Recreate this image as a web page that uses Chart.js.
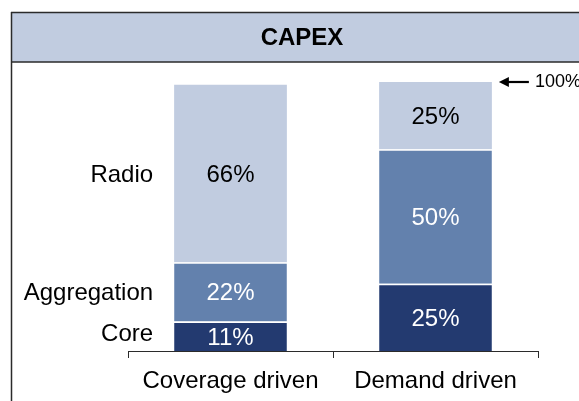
<!DOCTYPE html>
<html>
<head>
<meta charset="utf-8">
<title>CAPEX</title>
<script src="https://cdn.jsdelivr.net/npm/chart.js@4/dist/chart.umd.min.js"></script>
<style>
  html, body { margin: 0; padding: 0; background: #fff; }
  canvas { display: block; }
</style>
</head>
<body>
<canvas id="capex_chart" width="579" height="401"></canvas>
<script>
// data (percent of CAPEX)
var categories = ["Coverage driven", "Demand driven"];
var seriesNames = ["Core", "Aggregation", "Radio"];
var coreValues = [11, 25];
var aggregationValues = [22, 50];
var radioValues = [66, 25];
var totalMark = 100;

var FONT = "'Liberation Sans', Arial, sans-serif";
var lightBlue = '#C1CCE0';
var midBlue = '#6381AD';
var darkBlue = '#233A70';
var lineColor = '#2b2b2b';

// frame, header band and title
var framePlugin = {
    id: 'frame',
    beforeDraw: function(chart) {
        var ctx = chart.ctx;
        ctx.save();
        ctx.fillStyle = lightBlue;
        ctx.fillRect(11, 12, 600, 50);
        ctx.strokeStyle = lineColor;
        ctx.lineWidth = 1.5;
        ctx.beginPath();
        ctx.moveTo(11, 12.5); ctx.lineTo(600, 12.5);
        ctx.moveTo(11, 62); ctx.lineTo(600, 62);
        ctx.moveTo(11.5, 12); ctx.lineTo(11.5, 401);
        ctx.stroke();
        ctx.fillStyle = '#000';
        ctx.font = 'bold 24px ' + FONT;
        ctx.textAlign = 'center';
        ctx.textBaseline = 'middle';
        ctx.fillText('CAPEX', 302, 38);
        ctx.restore();
    }
};

// values in the segments, series names, 100% marker
var labelsPlugin = {
    id: 'segmentLabels',
    afterDatasetsDraw: function(chart) {
        var ctx = chart.ctx;
        ctx.save();
        ctx.font = '24px ' + FONT;
        ctx.textBaseline = 'middle';
        chart.data.datasets.forEach(function(ds, i) {
            var meta = chart.getDatasetMeta(i);
            meta.data.forEach(function(bar, j) {
                var mid = (bar.y + bar.base) / 2;
                ctx.textAlign = 'center';
                ctx.fillStyle = ds.labelColor;
                ctx.fillText(ds.data[j] + '%', bar.x, mid + 2);
                if (j === 0) {
                    ctx.textAlign = 'right';
                    ctx.fillStyle = '#000';
                    ctx.fillText(ds.label, bar.x - bar.width / 2 - 21, mid + (i === 0 ? -2 : 2));
                }
            });
        });

        // arrow pointing at the top of the last bar
        var last = chart.getDatasetMeta(2).data[1];
        var y = chart.scales.y.getPixelForValue(totalMark);
        var x0 = last.x + last.width / 2 + 7;
        ctx.strokeStyle = '#000';
        ctx.fillStyle = '#000';
        ctx.lineWidth = 2.2;
        ctx.beginPath();
        ctx.moveTo(x0 + 8, y);
        ctx.lineTo(x0 + 30, y);
        ctx.stroke();
        ctx.beginPath();
        ctx.moveTo(x0, y);
        ctx.lineTo(x0 + 10, y - 5);
        ctx.lineTo(x0 + 10, y + 5);
        ctx.closePath();
        ctx.fill();
        ctx.font = '18px ' + FONT;
        ctx.textAlign = 'left';
        ctx.fillText(totalMark + '%', x0 + 36, y);
        ctx.restore();
    }
};

var capexData = {
    labels: categories,
    datasets: [
        {
            label: seriesNames[0],
            data: coreValues,
            backgroundColor: darkBlue,
            borderColor: '#fff',
            borderWidth: {top: 1.5, left: 0, right: 0, bottom: 0},
            borderSkipped: false,
            labelColor: '#fff'
        },
        {
            label: seriesNames[1],
            data: aggregationValues,
            backgroundColor: midBlue,
            borderColor: '#fff',
            borderWidth: {top: 1.5, left: 0, right: 0, bottom: 0},
            borderSkipped: false,
            labelColor: '#fff'
        },
        {
            label: seriesNames[2],
            data: radioValues,
            backgroundColor: lightBlue,
            borderWidth: 0,
            labelColor: '#000'
        }
    ]
};

var capexOptions = {
    responsive: false,
    animation: false,
    layout: {padding: {left: 128, right: 41, top: 82, bottom: 0}},
    datasets: {bar: {categoryPercentage: 1, barPercentage: 0.55}},
    plugins: {
        legend: {display: false},
        title: {display: false},
        tooltip: {enabled: false}
    },
    scales: {
        x: {
            stacked: true,
            afterFit: function(scale) { scale.height = 50; },
            border: {display: true, color: lineColor, width: 1},
            grid: {
                display: true,
                offset: true,
                drawOnChartArea: false,
                drawTicks: true,
                tickLength: 7,
                color: lineColor
            },
            ticks: {
                color: '#000',
                padding: 9,
                font: {family: FONT, size: 24}
            }
        },
        y: {
            stacked: true,
            display: false,
            min: 0,
            max: 100
        }
    }
};

var ctx = document.getElementById("capex_chart").getContext("2d");
new Chart(ctx, {type: 'bar', data: capexData, options: capexOptions, plugins: [framePlugin, labelsPlugin]});
</script>
</body>
</html>
